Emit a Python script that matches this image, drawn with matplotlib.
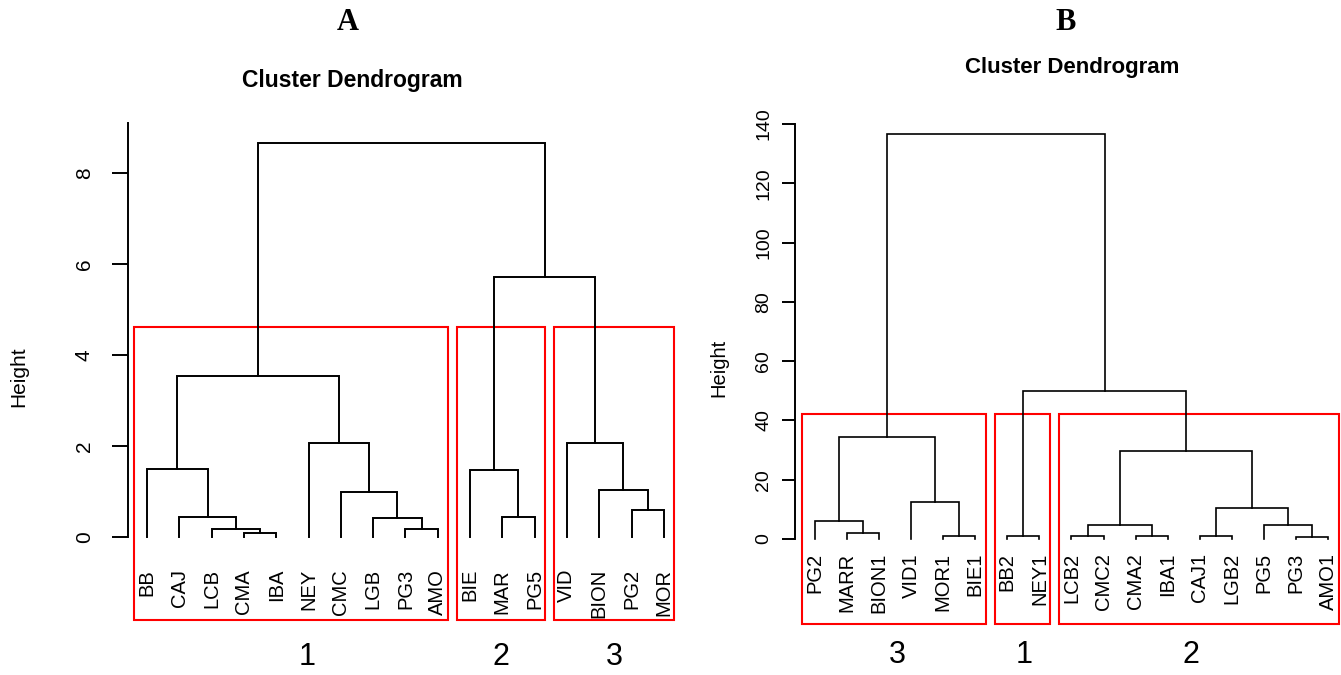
import matplotlib
matplotlib.use("Agg")
import matplotlib.pyplot as plt
from matplotlib.patches import Rectangle

plt.rcParams['font.family'] = ['Liberation Sans', 'DejaVu Sans']

W, H = 1341, 675

# ---------------- Panel A data ----------------
a_leaves = ["BB", "CAJ", "LCB", "CMA", "IBA", "NEY", "CMC", "LGB", "PG3", "AMO",
            "BIE", "MAR", "PG5", "VID", "BION", "PG2", "MOR"]
a_merge_left = ["CMA", "PG3", "LCB", "CAJ", "MAR", "LGB", "PG2", "CMC", "BION",
                "BB", "BIE", "NEY", "VID", "m10", "m11", "m14"]
a_merge_right = ["IBA", "AMO", "m1", "m3", "PG5", "m2", "MOR", "m6", "m7",
                 "m4", "m5", "m8", "m9", "m12", "m13", "m15"]
a_merge_height = [0.09, 0.18, 0.18, 0.44, 0.44, 0.42, 0.59, 0.99, 1.03,
                  1.49, 1.47, 2.07, 2.07, 3.54, 5.71, 8.66]
a_cluster_sizes = [10, 3, 4]
a_cluster_names = ["1", "2", "3"]
a_yticks = [0, 2, 4, 6, 8]

# ---------------- Panel B data ----------------
b_leaves = ["PG2", "MARR", "BION1", "VID1", "MOR1", "BIE1", "BB2", "NEY1",
            "LCB2", "CMC2", "CMA2", "IBA1", "CAJ1", "LGB2", "PG5", "PG3", "AMO1"]
b_merge_left = ["MARR", "PG2", "MOR1", "VID1", "m2", "BB2", "LCB2", "CMA2",
                "m7", "CAJ1", "PG3", "PG5", "m10", "m9", "m6", "m5"]
b_merge_right = ["BION1", "m1", "BIE1", "m3", "m4", "NEY1", "CMC2", "IBA1",
                 "m8", "LGB2", "AMO1", "m11", "m12", "m13", "m14", "m15"]
b_merge_height = [2.0, 6.1, 1.0, 12.5, 34.4, 1.0, 1.0, 1.0,
                  4.7, 1.0, 0.6, 4.7, 10.5, 29.7, 49.9, 136.6]
b_cluster_sizes = [6, 2, 9]
b_cluster_names = ["3", "1", "2"]
b_yticks = [0, 20, 40, 60, 80, 100, 120, 140]


def draw_panel(x0_px, x1_px, leaf1_px, spacing, y0_px, ppu, axis_px, spine_top,
               leaves, mleft, mright, mheight, sizes, names, yticks,
               lw, label_top_px, box_bottom_px, num_y_px, num_offsets,
               tick_len, tick_pad, tick_fs, label_fs):
    ax = fig.add_axes([x0_px / W, 0, (x1_px - x0_px) / W, 1])
    ax.set_xlim(1 + (x0_px - leaf1_px) / spacing, 1 + (x1_px - leaf1_px) / spacing)
    ax.set_ylim((y0_px - H) / ppu, y0_px / ppu)
    ax.patch.set_alpha(0)
    for s in ['top', 'right', 'bottom']:
        ax.spines[s].set_visible(False)
    ax.spines['left'].set_position(('data', 1 + (axis_px - leaf1_px) / spacing))
    ax.spines['left'].set_bounds(0, spine_top)
    ax.spines['left'].set_linewidth(1.4)
    ax.set_xticks([])
    ax.set_yticks(yticks)
    ax.tick_params(axis='y', length=tick_len, width=1.4, pad=tick_pad,
                   labelsize=tick_fs, labelrotation=90)
    for t in ax.get_yticklabels():
        t.set_va('center')

    pos = {n: i + 1 for i, n in enumerate(leaves)}
    hgt = {n: 0.0 for n in leaves}
    for k, (l, r, h) in enumerate(zip(mleft, mright, mheight), start=1):
        xl, xr = pos[l], pos[r]
        ax.plot([xl, xl, xr, xr], [hgt[l], h, h, hgt[r]], color='black', lw=lw,
                solid_joinstyle='miter', solid_capstyle='projecting')
        pos[f"m{k}"] = (xl + xr) / 2
        hgt[f"m{k}"] = h

    ly = (y0_px - label_top_px) / ppu
    for i, n in enumerate(leaves):
        ax.text(i + 1, ly, n, rotation=90, ha='center', va='top', fontsize=label_fs)

    # cut height giving len(sizes) clusters (as rect.hclust)
    k = len(sizes)
    srt = sorted(mheight)
    cut = (srt[-k] + srt[-(k - 1)]) / 2
    bottom = (y0_px - box_bottom_px) / ppu
    start = 0
    ny = (y0_px - num_y_px) / ppu
    for size, name, off in zip(sizes, names, num_offsets):
        left = start + 0.6
        right = start + size + 0.33
        ax.add_patch(Rectangle((left, bottom), right - left, cut - bottom,
                               fill=False, edgecolor='#ff0000', lw=1.5,
                               clip_on=False))
        ax.text((left + right) / 2 + off, ny, name, ha='center', va='center',
                fontsize=22)
        start += size
    return ax


fig = plt.figure(figsize=(W / 100, H / 100), dpi=100)

draw_panel(0, 670, 147, 32.3, 537, 45.5, 128, 9.1,
           a_leaves, a_merge_left, a_merge_right, a_merge_height,
           a_cluster_sizes, a_cluster_names, a_yticks,
           lw=1.4, label_top_px=569, box_bottom_px=620, num_y_px=657,
           num_offsets=[0.5, 0.0, 0.0], tick_len=11.5, tick_pad=13,
           tick_fs=15, label_fs=14.5)

draw_panel(670, 1341, 815, 32.06, 539, 2.964, 795, 140,
           b_leaves, b_merge_left, b_merge_right, b_merge_height,
           b_cluster_sizes, b_cluster_names, b_yticks,
           lw=1.2, label_top_px=553, box_bottom_px=624, num_y_px=655,
           num_offsets=[0.1, 0.05, -0.25], tick_len=9.4, tick_pad=7,
           tick_fs=14, label_fs=14.5)

# Titles
fig.text(348 / W, 1 - 23 / H, "A", ha='center', va='center', fontsize=22,
         fontweight='bold', family=['Liberation Serif', 'DejaVu Serif'])
fig.text(1066 / W, 1 - 23 / H, "B", ha='center', va='center', fontsize=22,
         fontweight='bold', family=['Liberation Serif', 'DejaVu Serif'])
fig.text(352 / W, 1 - 81 / H, "Cluster Dendrogram", ha='center', va='center',
         fontsize=16.5, fontweight='bold')
fig.text(1072 / W, 1 - 67 / H, "Cluster Dendrogram", ha='center', va='center',
         fontsize=16, fontweight='bold')
fig.text(19 / W, 1 - 377 / H, "Height", rotation=90, ha='center', va='center',
         fontsize=15)
fig.text(719 / W, 1 - 368 / H, "Height", rotation=90, ha='center', va='center',
         fontsize=14.5)

fig.savefig("out.png", dpi=100, facecolor='white')
